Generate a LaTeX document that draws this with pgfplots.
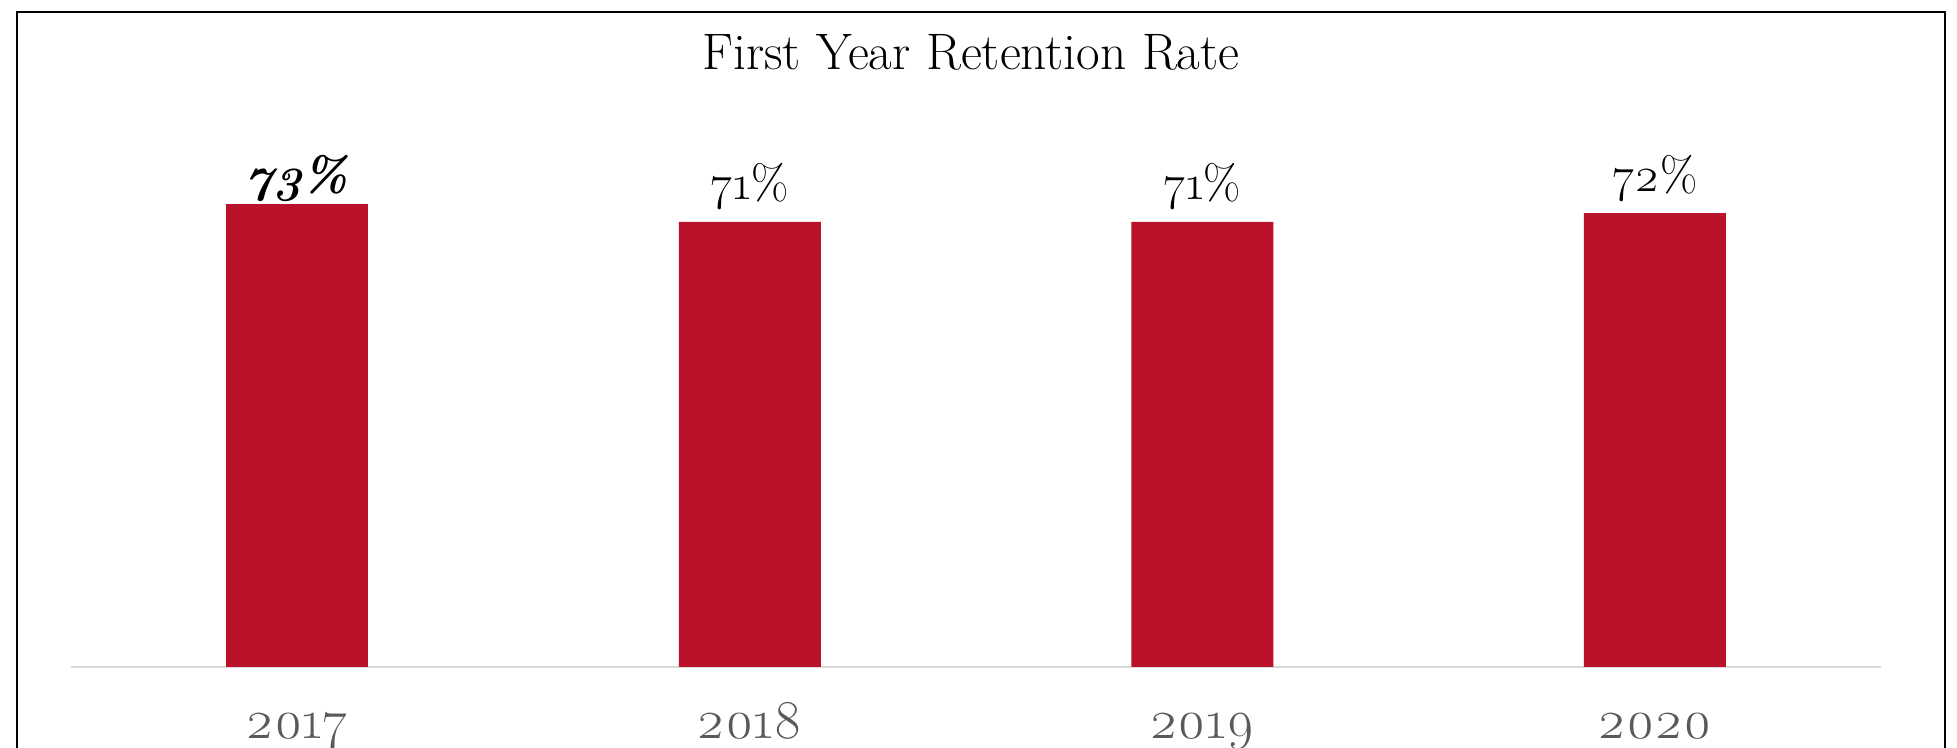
\documentclass[border=0pt]{standalone}
\usepackage{pgfplots}
\pgfplotsset{compat=1.18}
\usepackage{fontspec}
\setmainfont{Latin Modern Roman}[Numbers=OldStyle]
\definecolor{barred}{RGB}{186,18,42}
\definecolor{tickgray}{RGB}{89,89,89}
\definecolor{basegray}{RGB}{217,217,217}
\begin{document}
\begin{tikzpicture}
\useasboundingbox (0,0) rectangle (587.1pt,224.4pt);
\clip (0,0) rectangle (587.1pt,224.4pt);
\draw[line width=0.6pt] (5.1pt,-10pt) -- (5.1pt,220.8pt) -- (583.5pt,220.8pt) -- (583.5pt,-10pt);
\node[anchor=base, inner sep=0pt, font=\fontsize{15.4}{18}\selectfont] at (291.3pt,203.4pt) {First Year Retention Rate};
\begin{axis}[
  at={(21.3pt,24.3pt)}, anchor=south west,
  width=543pt, height=151.3pt, scale only axis,
  xmin=-0.5, xmax=3.5, ymin=0, ymax=80,
  axis line style={draw=none},
  ytick=\empty,
  xtick={0,1,2,3},
  xticklabels={2017,2018,2019,2020},
  major tick length=0pt,
  xticklabel style={anchor=base, yshift=-21.6pt, inner sep=0pt, text=tickgray, font=\fontsize{16.4}{19}\selectfont},
  clip=false,
  ybar, bar width=42.6pt, bar shift=0pt,
  nodes near coords,
  point meta=explicit symbolic,
]
\draw[basegray, line width=0.5pt] (rel axis cs:0,0) -- (rel axis cs:1,0);
\addplot[fill=barred, draw=none,
  every node near coord/.append style={anchor=base, inner sep=0pt, yshift=6.6pt, text=black, font=\fontsize{14.5}{17}\selectfont}]
  coordinates {(1,70.6) [71\%] (2,70.6) [71\%] (3,72.0) [72\%]};
\addplot[fill=barred, draw=none,
  every node near coord/.append style={anchor=base, inner sep=0pt, yshift=3.9pt, text=black, font=\fontsize{14.5}{17}\selectfont\bfseries\itshape}]
  coordinates {(0,73.4) [73\%]};
\end{axis}
\end{tikzpicture}
\end{document}
